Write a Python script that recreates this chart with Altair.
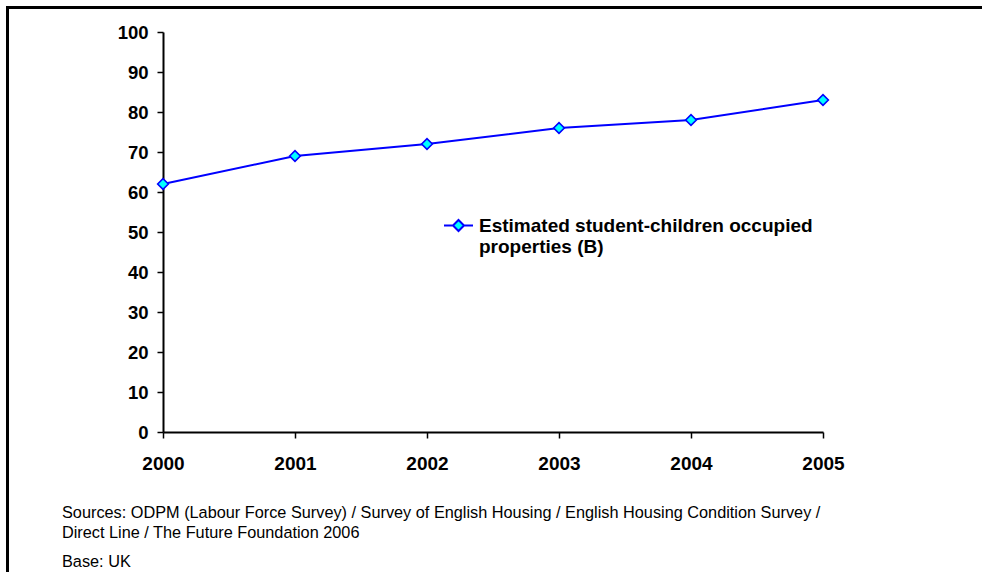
import json
import altair as alt
import pandas as pd

years = [2000, 2001, 2002, 2003, 2004, 2005]
values = [62, 69, 72, 76, 78, 83]
legend_lines = ["Estimated student-children occupied", "properties (B)"]
series_name = " ".join(legend_lines)
y_ticks = [0, 10, 20, 30, 40, 50, 60, 70, 80, 90, 100]
footnotes = [
    "Sources: ODPM (Labour Force Survey) / Survey of English Housing / English Housing Condition Survey /",
    "Direct Line / The Future Foundation 2006",
    "Base: UK",
]

df = pd.DataFrame({"year": years, "value": values, "series": [series_name] * len(years)})

FONT = "Liberation Sans"
W, H = 660, 400
L, T = 163, 32

x_enc = alt.X("year:Q", scale=alt.Scale(domain=[2000, 2005], nice=False, zero=False),
              axis=alt.Axis(values=years, format="d", title=None, grid=False,
                            labelFontSize=19, labelFontWeight="bold", labelFont=FONT,
                            labelColor="black", domainColor="black", domainWidth=2,
                            tickColor="black", tickWidth=1.5, tickSize=6, labelPadding=16,
                            labelFlush=False, labelOverlap=False))
y_enc = alt.Y("value:Q", scale=alt.Scale(domain=[0, 100], nice=False),
              axis=alt.Axis(values=y_ticks, title=None, grid=False,
                            labelFontSize=18.5, labelFontWeight="bold", labelFont=FONT,
                            labelColor="black", domainColor="black", domainWidth=2,
                            tickColor="black", tickWidth=1.5, tickSize=6, labelPadding=9,
                            labelOverlap=False, labelFlush=False))

sym_path = "M-1,0L-0.38,0M0.38,0L1,0M0,-0.38L0.38,0L0,0.38L-0.38,0Z"

line = alt.Chart(df).mark_line(strokeWidth=2).encode(
    x=x_enc, y=y_enc,
    stroke=alt.Stroke("series:N",
                      scale=alt.Scale(domain=[series_name], range=["#0000FF"]),
                      legend=alt.Legend(
                          title=None, orient="none", legendX=280, legendY=178,
                          symbolType=sym_path, symbolSize=841, symbolStrokeWidth=2,
                          symbolFillColor="#00FFFF", labelFont=FONT, labelFontSize=19,
                          labelFontWeight="bold", labelColor="black", labelLimit=0,
                          labelOffset=5, padding=0, labelBaseline="middle",
                          labelExpr=json.dumps(legend_lines))),
)

points = alt.Chart(df).mark_point(shape="diamond", size=115, filled=True, fill="#00FFFF",
                                  stroke="#0000FF", strokeWidth=1.6, opacity=1).encode(
    x=x_enc, y=y_enc)

border_top = alt.Chart(pd.DataFrame({"a": [0]})).mark_rule(color="black", strokeWidth=3).encode(
    x=alt.value(7 - L), x2=alt.value(1000), y=alt.value(7.5 - T))
border_left = alt.Chart(pd.DataFrame({"a": [0]})).mark_rule(color="black", strokeWidth=3).encode(
    x=alt.value(7.5 - L), y=alt.value(6 - T), y2=alt.value(700))

baselines = [517.5, 537.5, 566.5]
notes = []
for txt, b in zip(footnotes, baselines):
    notes.append(
        alt.Chart(pd.DataFrame({"t": [txt]})).mark_text(
            align="left", baseline="alphabetic", font=FONT, fontSize=16.3, color="black"
        ).encode(text="t:N", x=alt.value(62 - L), y=alt.value(b - T))
    )

chart = alt.layer(line, points, border_top, border_left, *notes).properties(
    width=W, height=H,
    autosize=alt.AutoSizeParams(type="none"),
    padding={"left": L, "top": T, "right": 982 - L - W, "bottom": 572 - T - H},
    background="white",
).configure_view(stroke=None).configure_axis(labelOverlap=False)

chart.save("out.html", embed_options={"renderer": "svg", "actions": False})
